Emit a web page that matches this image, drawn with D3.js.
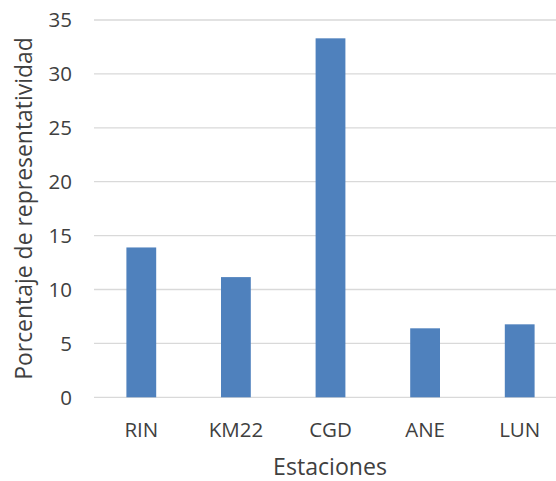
<!DOCTYPE html>
<html><head><meta charset="utf-8">
<script src="https://cdn.jsdelivr.net/npm/d3@7"></script>
<style>body{margin:0;background:#fff}svg{display:block}text{font-family:"Open Sans",sans-serif;fill:#404040}</style>
</head><body><div id="c"></div>
<script>
const categories = ["RIN","KM22","CGD","ANE","LUN"];
const values = [13.9, 11.15, 33.3, 6.4, 6.77];
const yTicks = [0,5,10,15,20,25,30,35];
const xTitle = "Estaciones";
const yTitle = "Porcentaje de representatividad";

const W=556,H=481;
const m={left:94,top:20,bottom:397.3};
const plotW=473;
const svg=d3.select("#c").append("svg").attr("width",W).attr("height",H);
const x=d3.scaleBand().domain(categories).range([m.left,m.left+plotW]).paddingInner(0.685).paddingOuter(0.3425);
const y=d3.scaleLinear().domain([0,35]).range([m.bottom,m.top]);

svg.append("g").selectAll("line").data(yTicks).join("line")
  .attr("x1",m.left).attr("x2",W).attr("y1",d=>y(d)).attr("y2",d=>y(d))
  .attr("stroke","#d9d9d9").attr("stroke-width",1.3);

svg.append("g").selectAll("rect").data(values).join("rect")
  .attr("x",(d,i)=>x(categories[i])).attr("width",x.bandwidth())
  .attr("y",d=>y(d)).attr("height",d=>y(0)-y(d))
  .attr("fill","#4f81bd");

function fit(sel,target){const n=sel.node();const fs=+sel.attr("font-size");const w=n.getComputedTextLength();sel.attr("font-size",fs*target/w);}

svg.append("g").selectAll("text").data(yTicks).join("text")
  .attr("x",72).attr("y",d=>y(d)).attr("dy","0.36em").attr("text-anchor","end")
  .attr("font-size",20.5).text(d=>d);

svg.append("g").selectAll("text").data(categories).join("text")
  .attr("x",d=>x(d)+x.bandwidth()/2).attr("y",437).attr("text-anchor","middle")
  .attr("font-size",20.5).text(d=>d);

const xt=svg.append("text").attr("x",330).attr("y",475).attr("text-anchor","middle").attr("font-size",20).text(xTitle);
fit(xt,114);
const yt=svg.append("text").attr("transform","translate(32,208.5) rotate(-90)").attr("text-anchor","middle").attr("font-size",20).text(yTitle);
fit(yt,343);
</script></body></html>
